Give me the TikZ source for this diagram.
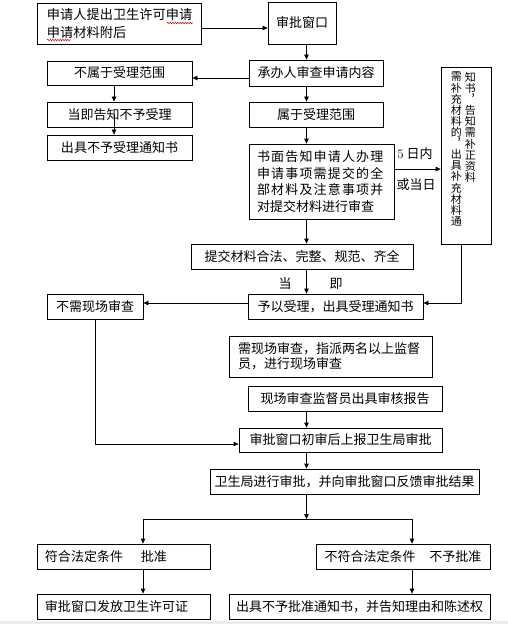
\documentclass[tikz,border=0pt]{standalone}
\usepackage{fontspec}
\newfontfamily\cjk{Noto Sans CJK SC}
\newfontfamily\cjkwide[LetterSpace=9]{Noto Sans CJK SC}
\usetikzlibrary{arrows.meta}
\usetikzlibrary{decorations.pathmorphing}

\begin{document}
\begin{tikzpicture}[x=1bp,y=-1bp,line join=miter]
  \path[use as bounding box] (0,0) rectangle (508,624);
  \fill[white] (0,0) rectangle (508,624);
  \fill[black!7] (0,621) rectangle (508,624);

  \tikzset{
    stepbox/.style={draw,line width=0.8bp,inner sep=0pt,minimum height=25bp,
      font=\cjk\fontsize{13bp}{15bp}\selectfont},
    flow/.style={-{Triangle[length=5bp,width=4.5bp]},line width=0.8bp},
    tag/.style={inner sep=0pt,font=\cjk\fontsize{13bp}{13bp}\selectfont},
    column/.style={inner sep=0pt,anchor=north,align=center,
      font=\cjk\fontsize{11bp}{11.1bp}\selectfont},
    squiggle/.style={draw=red!85!black,line width=0.5bp,
      decorate,decoration={snake,segment length=2.5bp,amplitude=0.7bp}},
  }

  % spine of the vertical arrows
  \coordinate (spine) at (306.5,0);

  % ==================== Application ====================
  \node[stepbox,minimum width=164bp,minimum height=41bp,text width=144bp,inner xsep=10bp,
    align=left,font=\cjk\fontsize{13.2bp}{18.3bp}\selectfont] (apply) at (119,23.5)
    {申请人提出卫生许可申请\\申请材料附后};
  \draw[squiggle] (167,23) -- (193,23);
  \draw[squiggle] (47,40) -- (71,40);

  \node[stepbox,minimum width=68bp,minimum height=42bp] (window) at (302,23) {审批窗口};
  \node[stepbox,minimum width=134bp,minimum height=26bp] (check) at (316,73) {承办人审查申请内容};

  % Out of scope branch
  \node[stepbox,minimum width=145bp,minimum height=24bp] (notin) at (119.5,73) {不属于受理范围};
  \node[stepbox,minimum width=145bp] (refuse) at (119.5,114.5) {当即告知不予受理};
  \node[stepbox,minimum width=145bp] (refnote) at (119.5,147.5) {出具不予受理通知书};

  % In scope branch
  \node[stepbox,minimum width=134bp] (inscope) at (316,114.5) {属于受理范围};
  \node[stepbox,minimum width=145bp,minimum height=75bp,text width=129bp,inner xsep=8bp,
    align=left,font=\cjk\fontsize{13bp}{16.7bp}\selectfont] (inform) at (321.5,181.5)
    {\cjkwide 书面告知申请人办理\\\cjkwide 申请事项需提交的全\\\cjkwide 部材料及注意事项并\\\cjk 对提交材料进行审查};

  % Supplement box (vertical text)
  \node[draw,line width=0.8bp,inner sep=0pt,minimum width=50bp,minimum height=177bp] (vert) at (466,155.5) {};
  \node[column] (vertleft) at (456.3,72)
    {需\\补\\充\\材\\料\\的\\︐\\出\\具\\补\\充\\材\\料\\通};
  \node[column] (vertright) at (470.3,72)
    {知\\书\\︐\\告\\知\\需\\补\\正\\资\\料};

  \node[tag] (days) at (415,154) {{\rmfamily 5} 日内};
  \node[tag] (sameday) at (416,185) {或当日};

  % ==================== Acceptance ====================
  \node[stepbox,minimum width=222bp] (legal) at (302,256.5) {提交材料合法、完整、规范、齐全};
  \node[tag] (dang) at (285,284) {当};
  \node[tag] (ji) at (336,284) {即};
  \node[stepbox,minimum width=175bp] (accept) at (335.5,306.5) {予以受理，出具受理通知书};
  \node[stepbox,minimum width=96bp] (nosite) at (95,306.5) {不需现场审查};

  \node[stepbox,minimum width=203bp,minimum height=41bp,text width=185bp,inner xsep=9bp,
    align=left] (site) at (330.5,356.5)
    {需现场审查，指派两名以上监督\\员，进行现场审查};
  \node[stepbox,minimum width=194bp] (report) at (345,398.5) {现场审查监督员出具审核报告};
  \node[stepbox,minimum width=203bp,minimum height=24bp] (prelim) at (340.5,440) {审批窗口初审后上报卫生局审批};
  \node[stepbox,minimum width=269bp] (bureau) at (344.5,481.5) {卫生局进行审批，并向审批窗口反馈审批结果};

  % ==================== Decision ====================
  \node[stepbox,minimum width=173bp,text width=157bp,inner xsep=8bp,align=left] (ok) at (123.5,556.5)
    {符合法定条件\hspace{18bp}批准};
  \node[stepbox,minimum width=174bp] (notok) at (403,556.5) {不符合法定条件\hspace{14bp}不予批准};
  \node[stepbox,minimum width=173bp,text width=157bp,inner xsep=8bp,align=left] (license) at (123.5,606.5)
    {审批窗口发放卫生许可证};
  \node[stepbox,minimum width=261bp] (denial) at (359.5,606.5) {出具不予批准通知书，并告知理由和陈述权};

  % ==================== Connectors ====================
  \draw[flow] (apply.east |- 0,28) -- (window.west |- 0,28);
  \draw[flow] (window.south -| spine) -- (check.north -| spine);
  \draw[flow] (check.west |- 0,78) -- (notin.east |- 0,78);
  \draw[flow] (notin.south -| 114,0) -- (refuse.north -| 114,0);
  \draw[flow] (refuse.center -| 114,0) -- (refnote.north -| 114,0);
  \draw[flow] (check.south -| spine) -- (inscope.north -| spine);
  \draw[flow] (inscope.south -| spine) -- (inform.north -| spine);
  \draw[flow] (inform.east |- 0,169) -- (vert.west |- 0,169);
  \draw[flow] (inform.south -| spine) -- (legal.north -| spine);
  \draw[flow] (legal.south -| spine) -- (accept.north -| spine);
  \draw[flow] (accept.west |- 0,303) -- (nosite.east |- 0,303);
  \draw[flow] (vert.south -| 461,0) |- (accept.east |- 0,303);
  \draw[flow] (nosite.south) |- (prelim.west |- 0,444);
  \draw[flow] (report.south -| spine) -- (prelim.north -| spine);
  \draw[flow] (prelim.south -| spine) -- (bureau.north -| spine);

  \coordinate (split) at (306.5,519);
  \draw[flow] (bureau.south -| spine) -- (split);
  \draw[flow] (split) -| (ok.north -| 143,0);
  \draw[flow] (split) -| (notok.north -| 412,0);
  \draw[flow] (ok.south -| 143,0) -- (license.north -| 143,0);
  \draw[flow] (notok.south -| 412,0) -- (denial.north -| 412,0);

\end{tikzpicture}
\end{document}
